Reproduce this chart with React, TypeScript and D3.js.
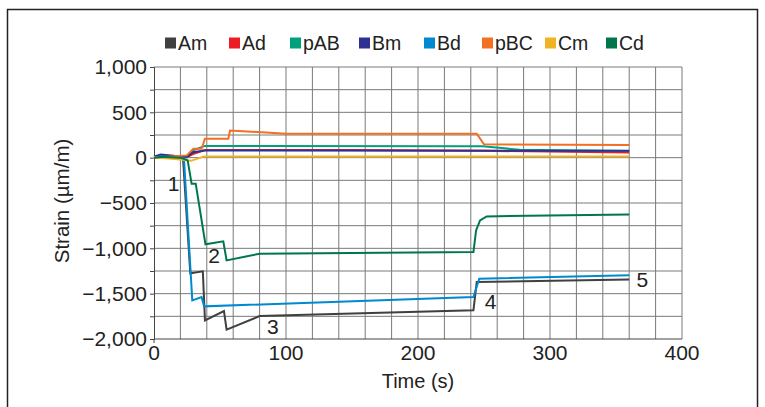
import React, { useEffect, useRef } from 'react';
import * as d3 from 'd3';

// series names and colours (legend order)
const seriesNames = ['Am', 'Ad', 'pAB', 'Bm', 'Bd', 'pBC', 'Cm', 'Cd'];
const seriesColors = ['#404040', '#ed1c24', '#00a07a', '#2e3192', '#0089d1', '#f36f21', '#f0b323', '#00774a'];

// time (s) / strain (µm/m)
const amTime = [0, 5, 22, 27.5, 37, 38.6, 53, 55, 80, 242, 244.5, 360];
const amStrain = [10, 20, -10, -1276, -1254, -1795, -1692, -1897, -1747, -1684, -1372, -1345];

const adTime = [0, 10, 25, 29.5, 38.6, 150, 250, 360];
const adStrain = [0, 5, 5, 40, 85, 85, 75, 58];

const pabTime = [0, 10, 25, 29.5, 38.6, 249, 277, 360];
const pabStrain = [0, 10, 5, 80, 130, 125, 88, 73];

const bmTime = [0, 5, 15, 25, 29.5, 38.6, 360];
const bmStrain = [10, 35, 20, 10, 60, 80, 75];

const bdTime = [0, 5, 22.7, 29, 36, 38, 242, 246.4, 360];
const bdStrain = [0, 15, -10, -1574, -1537, -1640, -1537, -1335, -1298];

const pbcTime = [0, 10, 24.8, 29.8, 36.1, 38.6, 56.3, 57.6, 100, 244.5, 250, 360];
const pbcStrain = [0, 10, 25, 99, 99, 210, 210, 300, 265, 265, 147, 139];

const cmTime = [0, 20, 28, 38, 360];
const cmStrain = [5, -20, -35, 14, 14];

const cdTime = [0, 5, 20, 25.5, 28.5, 31.6, 39, 52.5, 55, 80, 242, 244, 247, 252, 360];
const cdStrain = [0, 10, 0, -30, -287, -287, -956, -923, -1133, -1059, -1041, -802, -692, -648, -626];

const seriesTimes = [amTime, adTime, pabTime, bmTime, bdTime, pbcTime, cmTime, cdTime];
const seriesStrains = [amStrain, adStrain, pabStrain, bmStrain, bdStrain, pbcStrain, cmStrain, cdStrain];

// numbered annotations
const noteLabels = ['1', '2', '3', '4', '5'];
const noteTime = [14.8, 45.5, 90, 255, 370];
const noteStrain = [-290, -1077, -1860, -1585, -1342];

const xTicks = [0, 100, 200, 300, 400];
const yTicks = [1000, 500, 0, -500, -1000, -1500, -2000];

const legendX = [165, 229, 290, 359, 424, 482, 545, 606];

const FONT = '"Liberation Sans", Arial, sans-serif';

const App = () => {
  const svgRef = useRef<SVGSVGElement>(null);

  useEffect(() => {
    const svg = d3.select(svgRef.current);
    svg.selectAll('*').remove();

    const left = 154, right = 682, top = 67, bottom = 339;

    const x = d3.scaleLinear().domain([0, 400]).range([left, right]);
    const y = d3.scaleLinear().domain([-2000, 1000]).range([bottom, top]);

    // outer frame
    svg.append('rect')
      .attr('x', 7.5).attr('y', 9.5)
      .attr('width', 750).attr('height', 420)
      .attr('fill', 'none')
      .attr('stroke', '#222')
      .attr('stroke-width', 1.5);

    // grid
    const grid = svg.append('g').attr('stroke', '#7a7a7a').attr('stroke-width', 1);
    grid.selectAll('line.v')
      .data(d3.range(20, 401, 20))
      .join('line')
      .attr('x1', d => x(d)).attr('x2', d => x(d))
      .attr('y1', top).attr('y2', bottom);
    grid.selectAll('line.h')
      .data(d3.range(-1750, 1001, 250))
      .join('line')
      .attr('x1', left).attr('x2', right)
      .attr('y1', d => y(d)).attr('y2', d => y(d));

    // y axis
    svg.append('g')
      .attr('transform', `translate(${left},0)`)
      .call(d3.axisLeft(y).tickValues(d3.range(-2000, 1001, 250)).tickSize(4).tickFormat(() => ''))
      .call(g => g.selectAll('line, path').attr('stroke', '#444'));

    svg.append('g')
      .selectAll('text')
      .data(yTicks)
      .join('text')
      .attr('x', left - 7)
      .attr('y', d => y(d))
      .attr('dy', '0.35em')
      .attr('text-anchor', 'end')
      .style('font-family', FONT)
      .style('font-size', '21px')
      .style('fill', '#222')
      .text(d => d3.format(',')(d));

    // x axis
    svg.append('line')
      .attr('x1', left).attr('x2', right)
      .attr('y1', bottom).attr('y2', bottom)
      .attr('stroke', '#444');
    svg.append('line')
      .attr('x1', left).attr('x2', left)
      .attr('y1', bottom).attr('y2', bottom + 4)
      .attr('stroke', '#444');

    svg.append('g')
      .selectAll('text')
      .data(xTicks)
      .join('text')
      .attr('x', d => x(d))
      .attr('y', bottom + 21)
      .attr('text-anchor', 'middle')
      .style('font-family', FONT)
      .style('font-size', '21px')
      .style('fill', '#222')
      .text(d => d3.format(',')(d));

    // axis titles
    svg.append('text')
      .attr('x', (left + right) / 2)
      .attr('y', 388)
      .attr('text-anchor', 'middle')
      .style('font-family', FONT)
      .style('font-size', '20px')
      .style('fill', '#222')
      .text('Time (s)');

    svg.append('text')
      .attr('transform', `translate(69,${(top + bottom) / 2 - 2}) rotate(-90)`)
      .attr('text-anchor', 'middle')
      .style('font-family', FONT)
      .style('font-size', '20.5px')
      .style('fill', '#222')
      .text('Strain (µm/m)');

    // series lines
    const line = d3.line<[number, number]>()
      .x(d => x(d[0]))
      .y(d => y(d[1]));

    seriesNames.forEach((name, i) => {
      const pts: [number, number][] = seriesTimes[i].map((t, j) => [t, seriesStrains[i][j]]);
      svg.append('path')
        .datum(pts)
        .attr('fill', 'none')
        .attr('stroke', seriesColors[i])
        .attr('stroke-width', 2)
        .attr('stroke-linejoin', 'miter')
        .attr('d', line);
    });

    // annotations
    svg.append('g')
      .selectAll('text')
      .data(noteLabels)
      .join('text')
      .attr('x', (d, i) => x(noteTime[i]))
      .attr('y', (d, i) => y(noteStrain[i]))
      .attr('dy', '0.35em')
      .attr('text-anchor', 'middle')
      .style('font-family', FONT)
      .style('font-size', '21px')
      .style('fill', '#222')
      .text(d => d);

    // legend
    const legend = svg.append('g');
    seriesNames.forEach((name, i) => {
      legend.append('rect')
        .attr('x', legendX[i]).attr('y', 37.5)
        .attr('width', 11).attr('height', 11)
        .attr('fill', seriesColors[i]);
      legend.append('text')
        .attr('x', legendX[i] + 13)
        .attr('y', 50)
        .style('font-family', FONT)
        .style('font-size', '19.5px')
        .style('fill', '#222')
        .text(name);
    });
  }, []);

  return (
    <svg
      ref={svgRef}
      width={765}
      height={407}
      style={{ position: 'absolute', left: 0, top: 0, background: '#fff' }}
    />
  );
};

export default App;
